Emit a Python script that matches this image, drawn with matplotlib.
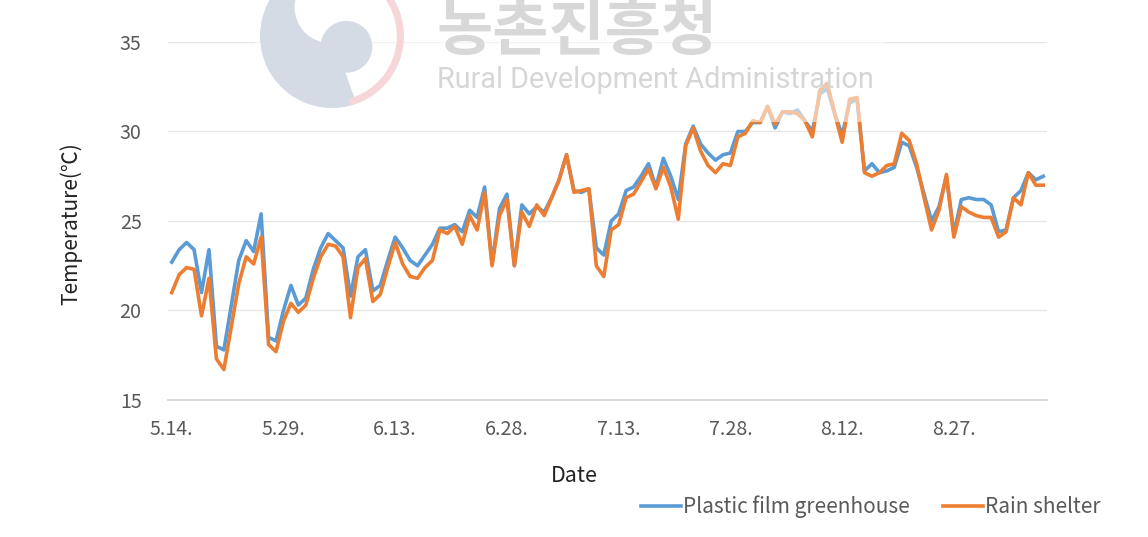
import matplotlib
matplotlib.use("Agg")
import matplotlib.pyplot as plt
import numpy as np
import datetime as dt
from matplotlib.patches import Rectangle, Wedge, Circle

plt.rcParams['font.family'] = ['Noto Sans CJK KR', 'DejaVu Sans']

# ---- data (daily mean temperature, 5.14. ~ 9.8.) ----
start_date = dt.date(2020, 5, 14)
n_days = 118
greenhouse = [
    22.7, 23.4, 23.8, 23.4, 21.0, 23.4, 18.0, 17.8, 20.3, 22.8,
    23.9, 23.3, 25.4, 18.5, 18.3, 20.0, 21.4, 20.3, 20.7, 22.3,
    23.5, 24.3, 23.9, 23.5, 20.8, 23.0, 23.4, 21.1, 21.4, 22.8,
    24.1, 23.5, 22.8, 22.5, 23.1, 23.7, 24.6, 24.6, 24.8, 24.4,
    25.6, 25.2, 26.9, 22.6, 25.7, 26.5, 22.5, 25.9, 25.4, 25.8,
    25.5, 26.3, 27.3, 28.7, 26.7, 26.6, 26.8, 23.5, 23.1, 25.0,
    25.4, 26.7, 26.9, 27.5, 28.2, 26.9, 28.5, 27.5, 26.2, 29.3,
    30.3, 29.3, 28.8, 28.4, 28.7, 28.8, 30.0, 30.0, 30.5, 30.5,
    31.4, 30.2, 31.1, 31.0, 31.2, 30.6, 30.0, 32.1, 32.4, 31.0,
    29.8, 31.6, 31.8, 27.8, 28.2, 27.7, 27.8, 28.0, 29.4, 29.2,
    28.0, 26.5, 25.0, 25.8, 27.5, 24.3, 26.2, 26.3, 26.2, 26.2,
    25.9, 24.4, 24.5, 26.3, 26.7, 27.7, 27.3, 27.5,
]
rain_shelter = [
    21.0, 22.0, 22.4, 22.3, 19.7, 21.8, 17.3, 16.7, 19.1, 21.5,
    23.0, 22.6, 24.1, 18.1, 17.7, 19.4, 20.4, 19.9, 20.3, 21.8,
    23.0, 23.7, 23.6, 23.0, 19.6, 22.4, 22.9, 20.5, 20.9, 22.4,
    23.8, 22.6, 21.9, 21.8, 22.4, 22.8, 24.5, 24.3, 24.7, 23.7,
    25.3, 24.5, 26.6, 22.5, 25.3, 26.2, 22.5, 25.5, 24.7, 25.9,
    25.3, 26.3, 27.3, 28.7, 26.6, 26.7, 26.8, 22.5, 21.9, 24.5,
    24.8, 26.3, 26.5, 27.2, 27.9, 26.8, 28.0, 26.9, 25.1, 29.2,
    30.2, 28.9, 28.1, 27.7, 28.2, 28.1, 29.7, 29.9, 30.6, 30.5,
    31.4, 30.4, 31.1, 31.1, 31.0, 30.6, 29.7, 32.3, 32.7, 31.0,
    29.4, 31.8, 31.9, 27.7, 27.5, 27.7, 28.1, 28.2, 29.9, 29.5,
    28.2, 26.3, 24.5, 25.6, 27.6, 24.1, 25.8, 25.5, 25.3, 25.2,
    25.2, 24.1, 24.4, 26.3, 25.9, 27.7, 27.0, 27.0,
]
series_names = ["Plastic film greenhouse", "Rain shelter"]
series_colors = ["#5B9BD5", "#ED7D31"]
y_ticks = [15, 20, 25, 30, 35]
tick_every = 15

dates = [start_date + dt.timedelta(days=i) for i in range(n_days)]
x = np.arange(n_days)
tick_pos = list(range(0, n_days, tick_every))
tick_labels = [f"{dates[i].month}.{dates[i].day}." for i in tick_pos]

# ---- figure ----
fig = plt.figure(figsize=(11.48, 5.37), dpi=100)
ax = fig.add_axes([168/1148, 1-400/537, (1047-168)/1148, (400-42)/537])

l1, = ax.plot(x, greenhouse, color=series_colors[0], lw=2.6, solid_joinstyle='round', zorder=3)
l2, = ax.plot(x, rain_shelter, color=series_colors[1], lw=2.6, solid_joinstyle='round', zorder=4)

ax.set_xlim(-0.5, n_days - 0.5)
ax.set_ylim(15, 35)
ax.set_yticks(y_ticks)
ax.set_xticks(tick_pos)
ax.set_xticklabels(tick_labels)
ax.tick_params(axis='both', length=0, labelsize=14.2, colors='#595959')
ax.tick_params(axis='y', pad=19)
ax.tick_params(axis='x', pad=14)
ax.grid(axis='y', color='#E6E6E6', lw=1)
ax.set_axisbelow(True)
for s in ['top', 'right', 'left']:
    ax.spines[s].set_visible(False)
ax.spines['bottom'].set_color('#D0D0D0')
ax.spines['bottom'].set_linewidth(1.2)

fig.text(574/1148, 1-476/537, "Date", ha='center', va='center', fontsize=15.5, color='#222222')
fig.text(71/1148, 1-224/537, "Temperature(℃)", ha='center', va='center', rotation=90,
         fontsize=15, color='#222222')

leg = fig.legend([l1, l2], series_names, loc='center', bbox_to_anchor=(871/1148, 1-507/537),
                 ncol=2, frameon=False, fontsize=15, handlelength=1.9, handletextpad=0.12,
                 columnspacing=1.6)
for t in leg.get_texts():
    t.set_color('#595959')

# ---- watermark (semi-transparent) ----
fig.add_artist(Rectangle((255/1148, 1-122/537), (885-255)/1148, 122/537,
                         transform=fig.transFigure, facecolor='white', alpha=0.55,
                         edgecolor='none', zorder=10))
# emblem
cx, cy, r = 332, 36, 72
def fx(px): return px/1148
def fy(py): return 1-py/537
emb_ax = fig.add_axes([fx(cx - r), fy(cy + r), 2*r/1148, 2*r/537], zorder=11)
emb_ax.set_xlim(-1, 1); emb_ax.set_ylim(-1, 1); emb_ax.axis('off')
emb_ax.patch.set_alpha(0)
blue_wm = '#D5DBE4'
emb_ax.add_patch(Wedge((0, 0), 1.0, 70, 290, facecolor=blue_wm, edgecolor='none'))
emb_ax.add_patch(Circle((-0.02, 0.4), 0.5, facecolor='white', edgecolor='none'))
emb_ax.add_patch(Circle((0.2, -0.15), 0.36, facecolor=blue_wm, edgecolor='none'))
emb_ax.add_patch(Wedge((0, 0), 1.0, -75, 85, width=0.1, facecolor='#F7D6D9', edgecolor='none'))

fig.text(fx(436), fy(50), "농촌진흥청", ha='left', va='baseline', fontsize=44,
         color='#D8D8D8', zorder=12, family=['Noto Sans CJK KR', 'DejaVu Sans'], fontweight='bold')
fig.text(fx(437), fy(80), "Rural Development Administration", ha='left', va='center',
         fontsize=20.7, color='#D6D6D6', zorder=12, family=['Roboto', 'DejaVu Sans'])

fig.savefig("out.png", dpi=100)
